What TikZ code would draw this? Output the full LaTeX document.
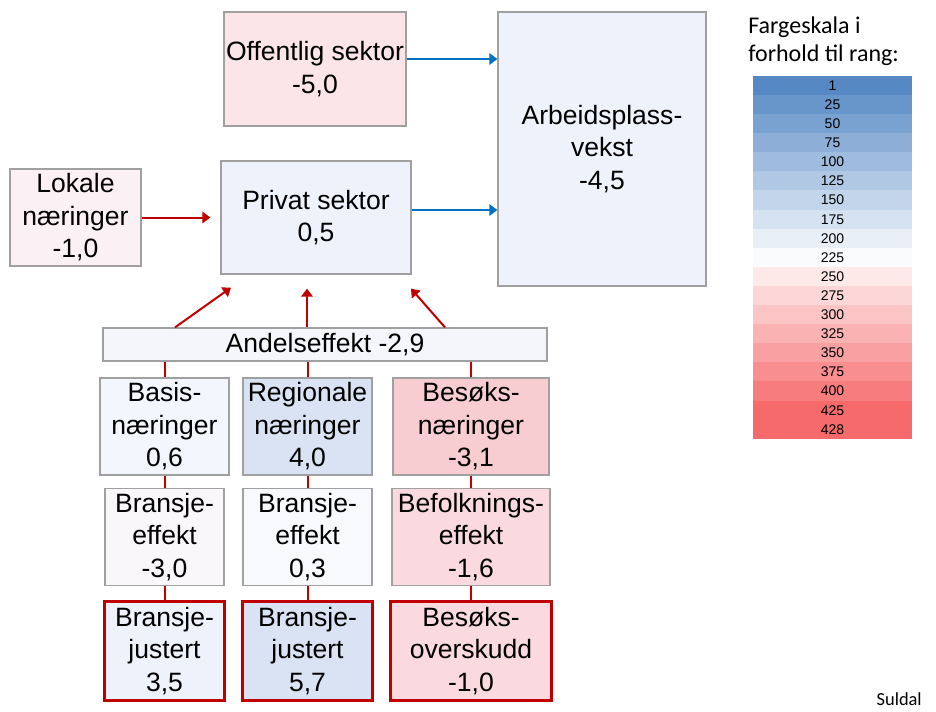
\documentclass[tikz,border=0pt]{standalone}
\usepackage{fontspec}
\setmainfont{Liberation Sans}
\newfontfamily\calibrifont{Carlito}
\usetikzlibrary{arrows.meta, positioning}
\definecolor{my_red}{RGB}{192, 0, 0}
\definecolor{my_blue}{RGB}{0, 112, 192}
\definecolor{my_border}{RGB}{160, 160, 160}
\definecolor{my_pink}{RGB}{251, 229, 232}
\definecolor{my_rose}{RGB}{251, 240, 243}
\definecolor{my_paleblue}{RGB}{238, 242, 250}
\definecolor{my_whiteblue}{RGB}{245, 246, 251}
\definecolor{my_iceblue}{RGB}{243, 246, 252}
\definecolor{my_midblue}{RGB}{218, 227, 243}
\definecolor{my_salmon}{RGB}{248, 205, 209}
\definecolor{my_mist}{RGB}{249, 247, 250}
\definecolor{my_snow}{RGB}{248, 249, 253}
\definecolor{my_blush}{RGB}{250, 218, 222}
\definecolor{rank_blue}{RGB}{86, 136, 196}
\definecolor{rank_red}{RGB}{246, 106, 108}
\newcommand\boxfont{\fontsize{19.9}{24.4}\selectfont}
\tikzset {
  box/.style = {draw=my_border, line width=0.9pt, rectangle, inner sep=0pt, align=center, font=\boxfont},
  keybox/.style = {box, draw=my_red, line width=2.3pt},
  line/.style = {->, line width=1.5pt, >={Triangle[length=6pt, width=8.5pt]}},
  link/.style = {line width=1.5pt, color=my_red},
  rank/.style = {minimum width=119.25pt, minimum height=14.6pt, inner sep=0pt, font=\fontsize{10.5}{12}\selectfont}
}

\begin{document}
\begin{tikzpicture}[x=0.75pt, y=-0.75pt]
    \useasboundingbox (0,0) rectangle (936,711);

    \node[box, fill=my_pink, minimum width=136.5pt, minimum height=85.5pt] (offentlig) at (315,69) {Offentlig sektor\\-5,0};
    \node[box, fill=my_paleblue, minimum width=156pt, minimum height=205.5pt] (arbeid) at (602,149) {Arbeidsplass-\\vekst\\-4,5};
    \node[box, fill=my_rose, minimum width=98.25pt, minimum height=72.75pt] (lokale) at (75.5,217.5) {Lokale\\næringer\\-1,0};
    \node[box, fill=my_paleblue, minimum width=142.5pt, minimum height=84.75pt] (privat) at (316,217.5) {Privat sektor\\0,5};
    \node[box, fill=my_whiteblue, minimum width=333pt, minimum height=24.75pt] (andel) at (325,344.5) {Andelseffekt -2,9};

    \node[box, fill=my_iceblue, minimum width=96.75pt, minimum height=72.75pt] (basis) at (164.5,426.5) {Basis-\\næringer\\0,6};
    \node[box, fill=my_midblue, minimum width=96.75pt, minimum height=72.75pt] (regional) at (307.5,426.5) {Regionale\\næringer\\4,0};
    \node[box, fill=my_salmon, minimum width=117pt, minimum height=72.75pt] (besoksn) at (471,426.5) {Besøks-\\næringer\\-3,1};

    \node[box, fill=my_mist, minimum width=89.25pt, minimum height=72.75pt, below=9pt of basis] (effekt1) {Bransje-\\effekt\\-3,0};
    \node[box, fill=my_snow, minimum width=96.75pt, minimum height=72.75pt, below=9pt of regional] (effekt2) {Bransje-\\effekt\\0,3};
    \node[box, fill=my_blush, minimum width=118.5pt, minimum height=72.75pt, below=9pt of besoksn] (befolk) {Befolknings-\\effekt\\-1,6};

    \node[keybox, fill=my_paleblue, minimum width=90pt, minimum height=74.25pt, below=10.5pt of effekt1] (justert1) {Bransje-\\justert\\3,5};
    \node[keybox, fill=my_midblue, minimum width=97.5pt, minimum height=74.25pt, below=10.5pt of effekt2] (justert2) {Bransje-\\justert\\5,7};
    \node[keybox, fill=my_blush, minimum width=120.75pt, minimum height=74.25pt, below=10.5pt of befolk] (overskudd) {Besøks-\\overskudd\\-1,0};

    \draw[line, my_blue] ([yshift=7.5pt]offentlig.east) -- ([yshift=7.5pt]offentlig.east -| arbeid.west);
    \draw[line, my_blue] ([yshift=5.6pt]privat.east) -- ([yshift=5.6pt]privat.east -| arbeid.west);
    \draw[line, my_red, shorten >=7.5pt] (lokale) -- (privat);

    \draw[line, my_red] ([xshift=-112.5pt]andel.north) -- ([xshift=-63.75pt, yshift=-9.75pt]privat.south);
    \draw[line, my_red] ([xshift=-13.5pt]andel.north) -- ([xshift=-6.75pt, yshift=-10.5pt]privat.south);
    \draw[line, my_red] ([xshift=90pt]andel.north) -- ([xshift=71.25pt, yshift=-10.5pt]privat.south);

    \draw[link] (andel.south -| basis.north) -- (basis.north);
    \draw[link] (andel.south -| regional.north) -- (regional.north);
    \draw[link] (andel.south -| besoksn.north) -- (besoksn.north);
    \draw[link] (basis) -- (effekt1);
    \draw[link] (regional) -- (effekt2);
    \draw[link] (besoksn) -- (befolk);
    \draw[link] (effekt1) -- (justert1);
    \draw[link] (effekt2) -- (justert2);
    \draw[link] (befolk) -- (overskudd);

    % fargeskala
    \node[anchor=north west, align=left, inner sep=0pt, font=\calibrifont\fontsize{18}{20.5}\selectfont] (title) at (748,17) {Fargeskala i\\forhold til rang:};
    \foreach \lab [count=\i from 0] in {1,25,50,75,100,125,150,175,200,225,250,275,300,325,350,375,400,425,428} {
      \pgfmathsetmacro\pct{\i<10 ? 100-\i*97/9 : min(100,15+(\i-10)*85/7)}
      \pgfmathsetmacro\ypos{76+19.1*(\i+0.5)}
      \ifnum\i<10 \def\rankcol{rank_blue}\else \def\rankcol{rank_red}\fi
      \node[rank, fill=\rankcol!\pct!white] (rank\i) at (832.5,\ypos) {\lab};
    }

    \node[anchor=base east, inner sep=0pt, font=\calibrifont\fontsize{13.8}{16}\selectfont] (kommune) at (922,705) {Suldal};
\end{tikzpicture}
\end{document}
